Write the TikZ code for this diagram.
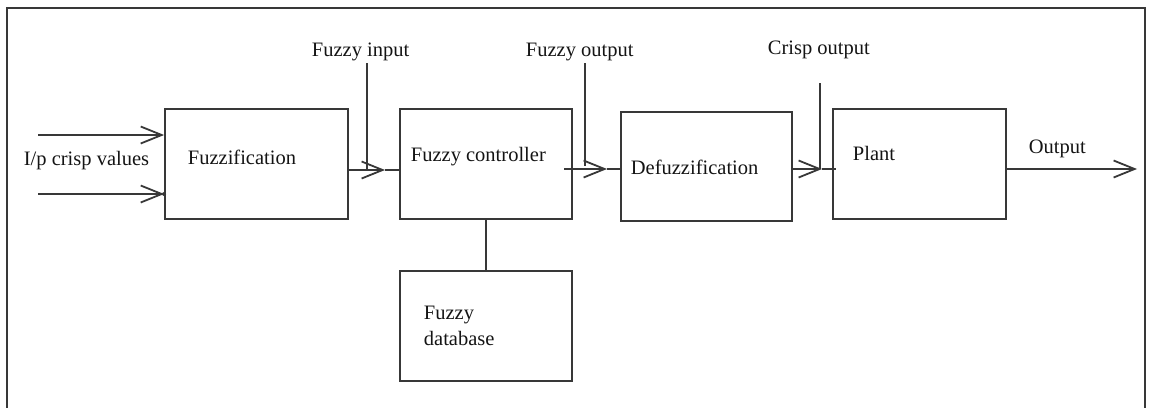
\documentclass[tikz,border=0pt]{standalone}
\usepackage{fontspec}
\setmainfont{Liberation Serif}
\usetikzlibrary{arrows.meta}
\begin{document}
\begin{tikzpicture}[x=1pt,y=-1pt, line width=1.8pt, color=black!78,
  blk/.style={draw, rectangle, inner sep=0pt},
  txt/.style={anchor=west, inner sep=0pt, font=\fontsize{20.5}{24}\selectfont, text=black!92},
  barb/.style={-{Straight Barb[length=21pt,width=17pt]}}]
\useasboundingbox (0,0) rectangle (1155,407);
% frame
\draw (7,410) -- (7,8) -- (1145,8) -- (1145,410);
% blocks
\node[blk, minimum width=183pt, minimum height=110pt] (fuzz) at (256.5,164) {};
\node[blk, minimum width=172pt, minimum height=110pt] (fc) at (486,164) {};
\node[blk, minimum width=171pt, minimum height=109pt] (defz) at (706.5,166.5) {};
\node[blk, minimum width=173pt, minimum height=110pt] (plant) at (919.5,164) {};
\node[blk, minimum width=172pt, minimum height=110pt] (db) at (486,326) {};
% texts
\node[txt] (tfuzz) at (187,157) {Fuzzification};
\node[txt] (tfc) at (410,157) {Fuzzy controller};
\node[txt] (tdefz) at (630,167) {Defuzzification};
\node[txt] (tplant) at (852,153) {Plant};
\node[txt] (tdb1) at (423,315) {Fuzzy};
\node[txt] (tdb2) at (423,338) {database};
\node[txt] (lin) at (23,161) {I/p crisp values};
\node[txt] (lfi) at (311,52) {Fuzzy input};
\node[txt] (lfo) at (525,52) {Fuzzy output};
\node[txt] (lco) at (767,50) {Crisp output};
\node[txt] (lout) at (1028,149) {Output};
% coordinates
\coordinate (in1) at (38,135);
\coordinate (in2) at (38,194);
\coordinate (a1) at (385,170);
\coordinate (v1) at (367,63);
\coordinate (s2) at (564,169);
\coordinate (a2) at (607,169);
\coordinate (v2) at (585,63);
\coordinate (a3) at (822,169);
\coordinate (v3) at (820,83);
\coordinate (a4) at (1137,169);
% inputs
\draw[barb] (in1) -- (in1 -| fuzz.west);
\draw[barb] (in2) -- (in2 -| fuzz.west);
\fill (in2 -| fuzz.west) circle (2pt);
% fuzzification -> controller
\draw[barb] (fuzz.east |- a1) -- (a1);
\draw (a1) -- (a1 -| fc.west);
\draw (v1) -- (v1 |- a1);
% controller -> defuzzification
\draw[barb] (s2) -- (a2);
\draw (a2) -- (a2 -| defz.west);
\draw (v2) -- ([yshift=3pt]v2 |- a2);
% defuzzification -> plant
\draw[barb] (defz.east |- a3) -- (a3);
\draw (a3) -- ([xshift=4pt]a3 -| plant.west);
\draw (v3) -- (v3 |- a3);
% plant -> output
\draw[barb] (plant.east |- a4) -- (a4);
% controller -- database
\draw (fc.south) -- (db.north);
\end{tikzpicture}
\end{document}
